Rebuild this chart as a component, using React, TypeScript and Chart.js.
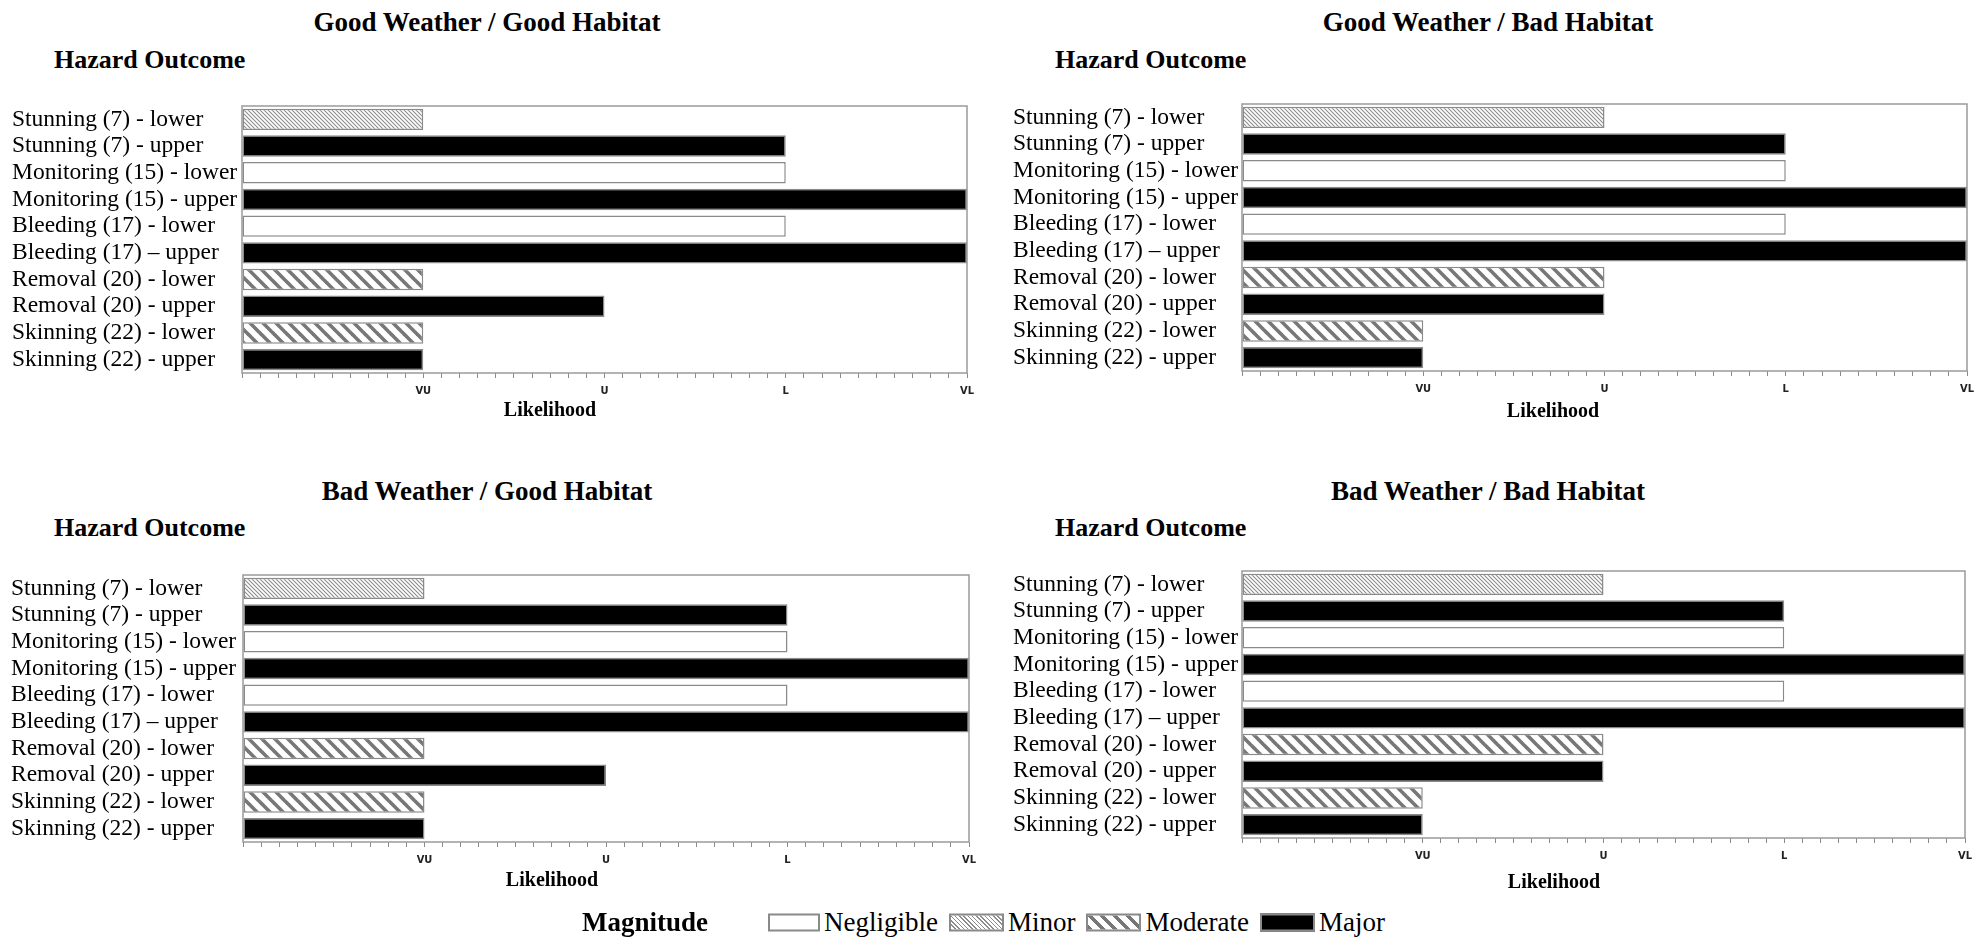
import React, { useEffect, useRef } from "react";
import { Chart, registerables } from "chart.js";

Chart.register(...registerables);

// ---------------- DATA ----------------
const hazardLabels = [
  "Stunning (7) - lower",
  "Stunning (7) - upper",
  "Monitoring (15) - lower",
  "Monitoring (15) - upper",
  "Bleeding (17) - lower",
  "Bleeding (17) \u2013 upper",
  "Removal (20) - lower",
  "Removal (20) - upper",
  "Skinning (22) - lower",
  "Skinning (22) - upper",
];

// Likelihood levels: 1 = VU, 2 = U, 3 = L, 4 = VL
const likelihoodTickLabels = ["", "VU", "U", "L", "VL"];

const magnitudes = [
  "Minor",
  "Major",
  "Negligible",
  "Major",
  "Negligible",
  "Major",
  "Moderate",
  "Major",
  "Moderate",
  "Major",
];

const goodWeatherGoodHabitat = [1, 3, 3, 4, 3, 4, 1, 2, 1, 1];
const goodWeatherBadHabitat = [2, 3, 3, 4, 3, 4, 2, 2, 1, 1];
const badWeatherGoodHabitat = [1, 3, 3, 4, 3, 4, 1, 2, 1, 1];
const badWeatherBadHabitat = [2, 3, 3, 4, 3, 4, 2, 2, 1, 1];

const magnitudeLegend = ["Negligible", "Minor", "Moderate", "Major"];

// ---------------- STYLE ----------------
const SERIF = '"Liberation Serif", "Times New Roman", Times, serif';
const BORDER_GRAY = "#8a8a8a";

function makeStripeTile(size: number, lineWidth: number, color: string) {
  const c = document.createElement("canvas");
  c.width = size;
  c.height = size;
  const g = c.getContext("2d")!;
  g.fillStyle = "#ffffff";
  g.fillRect(0, 0, size, size);
  g.strokeStyle = color;
  g.lineWidth = lineWidth;
  g.lineCap = "square";
  for (const x0 of [-size, 0, size]) {
    g.beginPath();
    g.moveTo(x0, 0);
    g.lineTo(x0 + size, size);
    g.stroke();
  }
  return c;
}

const boxPlugin = {
  id: "plotBox",
  afterDatasetsDraw(chart: any) {
    const { ctx, chartArea } = chart;
    ctx.save();
    ctx.strokeStyle = "#9a9a9a";
    ctx.lineWidth = 1.5;
    ctx.strokeRect(
      chartArea.left,
      chartArea.top,
      chartArea.right - chartArea.left,
      chartArea.bottom - chartArea.top
    );
    ctx.restore();
  },
};

type PanelProps = {
  values: number[];
  left: number;
  top: number;
  padLeft: number;
  padRight: number;
  plotLeft: number; // offset of plot area from canvas left
};

const CANVAS_W = 992;
const CANVAS_H = 324;
const X_AXIS_H = 37;
const PAD_TOP = 20;

function Panel({ values, left, top, padLeft, padRight, plotLeft }: PanelProps) {
  const ref = useRef<HTMLCanvasElement | null>(null);
  useEffect(() => {
    const canvas = ref.current!;
    const ctx = canvas.getContext("2d")!;
    const minorPat = ctx.createPattern(makeStripeTile(4, 1.1, "#8c8c8c"), "repeat");
    const moderatePat = ctx.createPattern(makeStripeTile(13, 3.6, "#777777"), "repeat");
    const fillFor = (m: string) =>
      m === "Major" ? "#000000" : m === "Negligible" ? "#ffffff" : m === "Minor" ? minorPat : moderatePat;

    const chart = new Chart(canvas, {
      type: "bar",
      data: {
        labels: hazardLabels,
        datasets: [
          {
            data: values,
            backgroundColor: magnitudes.map(fillFor) as any,
            borderColor: BORDER_GRAY,
            borderWidth: 1.5,
            borderSkipped: false,
            barPercentage: 0.8,
            categoryPercentage: 1,
          },
        ],
      },
      options: {
        indexAxis: "y",
        animation: false,
        responsive: false,
        devicePixelRatio: 1,
        layout: { padding: { top: PAD_TOP, right: padRight, left: padLeft, bottom: 0 } },
        plugins: {
          legend: { display: false },
          tooltip: { enabled: false },
          title: { display: false },
        },
        scales: {
          x: {
            type: "linear",
            min: 0,
            max: 4,
            afterFit: (s: any) => {
              s.height = X_AXIS_H;
            },
            grid: {
              display: true,
              drawOnChartArea: false,
              drawTicks: true,
              tickLength: 5,
              tickColor: "#8a8a8a",
              tickWidth: 1,
            },
            border: { display: false },
            ticks: {
              stepSize: 0.1,
              autoSkip: false,
              maxRotation: 0,
              minRotation: 0,
              padding: 7,
              color: "#222222",
              font: { family: '"DejaVu Sans Condensed", "DejaVu Sans", sans-serif', size: 11, weight: "bold" },
              callback: (v: any) => {
                const n = Number(v);
                if (Math.abs(n - Math.round(n)) < 1e-6) return likelihoodTickLabels[Math.round(n)] || "";
                return "";
              },
            },
          },
          y: {
            type: "category",
            afterFit: (s: any) => {
              s.width = plotLeft - padLeft;
            },
            grid: { display: false, drawTicks: false },
            border: { display: false },
            ticks: {
              padding: 5,
              crossAlign: "far",
              color: "#000000",
              font: { family: SERIF, size: 23.5 },
              autoSkip: false,
            },
          },
        },
      },
      plugins: [boxPlugin],
    } as any);
    return () => chart.destroy();
  }, [values, padLeft, padRight, plotLeft]);

  return (
    <canvas
      ref={ref}
      width={CANVAS_W}
      height={CANVAS_H}
      style={{ position: "absolute", left, top, width: CANVAS_W, height: CANVAS_H }}
    />
  );
}

function Text({
  x,
  y,
  children,
  size,
  bold,
  center,
}: {
  x: number;
  y: number;
  children: React.ReactNode;
  size: number;
  bold?: boolean;
  center?: boolean;
}) {
  return (
    <div
      style={{
        position: "absolute",
        left: x,
        top: y,
        transform: center ? "translate(-50%, -50%)" : "translate(0, -50%)",
        fontFamily: SERIF,
        fontSize: size,
        fontWeight: bold ? "bold" : "normal",
        lineHeight: 1,
        whiteSpace: "nowrap",
        color: "#000",
      }}
    >
      {children}
    </div>
  );
}

const swatchStyles: Record<string, React.CSSProperties> = {
  Negligible: { background: "#ffffff" },
  Minor: { background: "repeating-linear-gradient(45deg, #8c8c8c 0 1px, #ffffff 1px 3px)" },
  Moderate: { background: "repeating-linear-gradient(45deg, #777777 0 3.5px, #ffffff 3.5px 9px)" },
  Major: { background: "#000000" },
};

export default function App() {
  return (
    <div style={{ position: "absolute", left: 0, top: 0, width: 1984, height: 937, background: "#fff" }}>
      <Panel values={goodWeatherGoodHabitat} left={0} top={106 - PAD_TOP} padLeft={12} padRight={25} plotLeft={242} />
      <Panel values={goodWeatherBadHabitat} left={992} top={104 - PAD_TOP} padLeft={21} padRight={17} plotLeft={250} />
      <Panel values={badWeatherGoodHabitat} left={0} top={575 - PAD_TOP} padLeft={11} padRight={23} plotLeft={243} />
      <Panel values={badWeatherBadHabitat} left={992} top={571 - PAD_TOP} padLeft={21} padRight={19} plotLeft={250} />

      <Text x={487} y={22} size={27} bold center>Good Weather / Good Habitat</Text>
      <Text x={1488} y={22} size={27} bold center>Good Weather / Bad Habitat</Text>
      <Text x={487} y={491} size={27} bold center>Bad Weather / Good Habitat</Text>
      <Text x={1488} y={491} size={27} bold center>Bad Weather / Bad Habitat</Text>

      <Text x={54} y={60} size={26} bold>Hazard Outcome</Text>
      <Text x={1055} y={60} size={26} bold>Hazard Outcome</Text>
      <Text x={54} y={528} size={26} bold>Hazard Outcome</Text>
      <Text x={1055} y={528} size={26} bold>Hazard Outcome</Text>

      <Text x={550} y={409} size={20} bold center>Likelihood</Text>
      <Text x={1553} y={410} size={20} bold center>Likelihood</Text>
      <Text x={552} y={879} size={20} bold center>Likelihood</Text>
      <Text x={1554} y={881} size={20} bold center>Likelihood</Text>

      <Text x={582} y={922} size={27} bold>Magnitude</Text>
      <div
        style={{
          position: "absolute",
          left: 768,
          top: 922,
          transform: "translate(0, -50%)",
          display: "flex",
          alignItems: "center",
          fontFamily: SERIF,
          fontSize: 27,
          lineHeight: 1,
          whiteSpace: "nowrap",
        }}
      >
        {magnitudeLegend.map((m) => (
          <div key={m} style={{ display: "flex", alignItems: "center", marginRight: 11 }}>
            <div
              style={{
                width: m === "Negligible" ? 52 : 55,
                height: 18,
                boxSizing: "border-box",
                border: `2px solid ${BORDER_GRAY}`,
                marginRight: 4,
                ...swatchStyles[m],
              }}
            />
            <span>{m}</span>
          </div>
        ))}
      </div>
    </div>
  );
}
